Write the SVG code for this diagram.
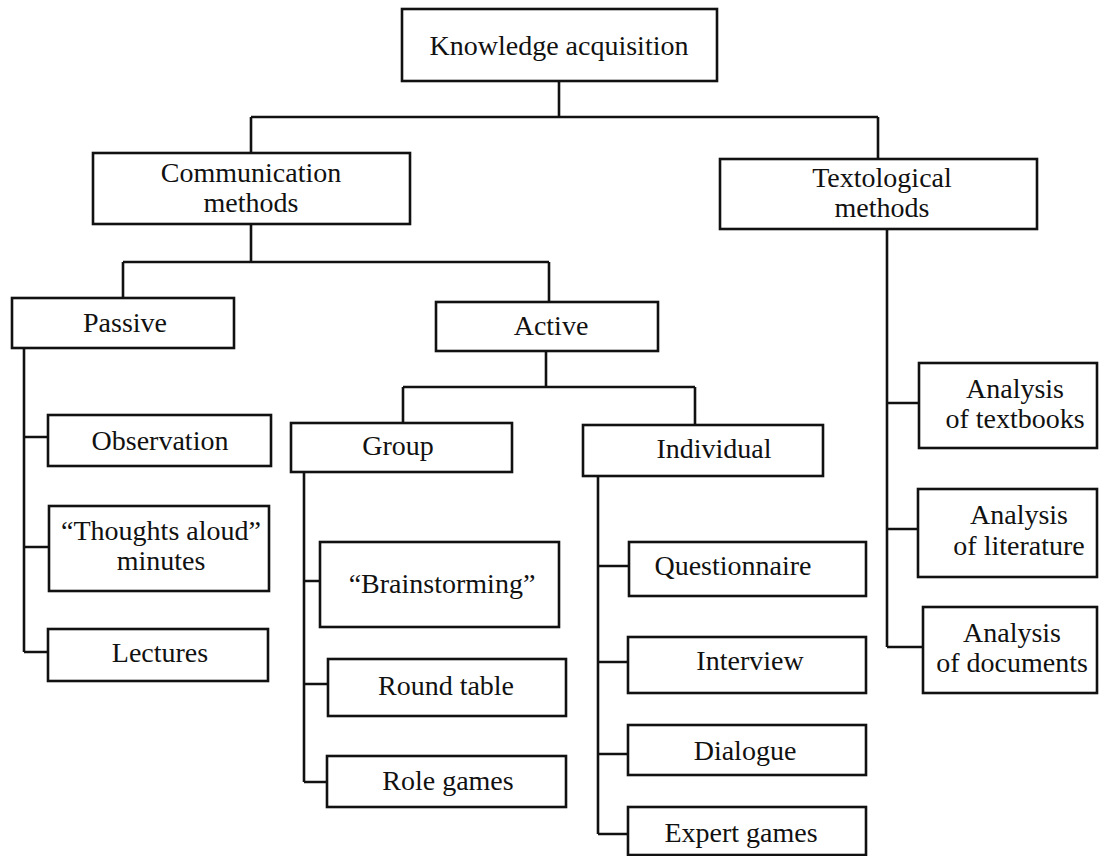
<svg xmlns="http://www.w3.org/2000/svg" width="1099" height="856" viewBox="0 0 1099 856">
<style>
rect{fill:#fff;stroke:#111;stroke-width:2.6}
text{font-family:"Liberation Serif","Times New Roman",serif;font-size:28px;fill:#111;text-anchor:middle}
#connectors path{fill:none;stroke:#111;stroke-width:2.6}
</style>
<rect x="0" y="0" width="1099" height="856" style="fill:#fff;stroke:none"/>
<g id="connectors">
<path d="M559,81V117M251,117H878M251,117V153M878,117V159"/>
<path d="M251,224V262M123,262H549M123,262V298M549,262V302"/>
<path d="M546,351V387M403,387H695M403,387V423M695,387V425"/>
<path d="M24,348V652M24,437H48M24,547H49M24,652H48"/>
<path d="M304,472V782M304,581H320M304,684H328M304,782H327"/>
<path d="M598,476V834M598,566H629M598,662H628M598,754H628M598,834H628"/>
<path d="M887,229V647M887,403H919M887,529H918M887,647H923"/>
</g>
<g id="knowledge"><rect x="402" y="9" width="315" height="72"/><text x="559" y="55">Knowledge acquisition</text></g>
<g id="communication"><rect x="93" y="153" width="317" height="71"/><text x="251" y="182">Communication</text><text x="251" y="212">methods</text></g>
<g id="textological"><rect x="720" y="159" width="317" height="70"/><text x="882" y="187">Textological</text><text x="882" y="217">methods</text></g>
<g id="passive"><rect x="12" y="298" width="222" height="50"/><text x="125" y="332">Passive</text></g>
<g id="active"><rect x="436" y="302" width="222" height="49"/><text x="551" y="335">Active</text></g>
<g id="group"><rect x="291" y="423" width="221" height="49"/><text x="398" y="455">Group</text></g>
<g id="individual"><rect x="583" y="425" width="240" height="51"/><text x="714" y="458">Individual</text></g>
<g id="observation"><rect x="48" y="415" width="223" height="51"/><text x="160" y="450">Observation</text></g>
<g id="thoughts"><rect x="49" y="506" width="220" height="85"/><text x="161" y="540">“Thoughts aloud”</text><text x="161" y="570">minutes</text></g>
<g id="lectures"><rect x="48" y="629" width="220" height="52"/><text x="160" y="662">Lectures</text></g>
<g id="brainstorming"><rect x="320" y="542" width="239" height="85"/><text x="442" y="593">“Brainstorming”</text></g>
<g id="roundtable"><rect x="328" y="659" width="238" height="57"/><text x="446" y="695">Round table</text></g>
<g id="rolegames"><rect x="327" y="756" width="239" height="51"/><text x="448" y="790">Role games</text></g>
<g id="questionnaire"><rect x="629" y="542" width="237" height="54"/><text x="733" y="575">Questionnaire</text></g>
<g id="interview"><rect x="628" y="637" width="238" height="56"/><text x="750" y="670">Interview</text></g>
<g id="dialogue"><rect x="628" y="725" width="238" height="50"/><text x="745" y="760">Dialogue</text></g>
<g id="expertgames"><rect x="628" y="807" width="238" height="48"/><text x="741" y="842">Expert games</text></g>
<g id="textbooks"><rect x="919" y="363" width="178" height="85"/><text x="1015" y="398">Analysis</text><text x="1015" y="428">of textbooks</text></g>
<g id="literature"><rect x="918" y="489" width="179" height="88"/><text x="1019" y="524">Analysis</text><text x="1019" y="555">of literature</text></g>
<g id="documents"><rect x="923" y="607" width="174" height="86"/><text x="1012" y="642">Analysis</text><text x="1012" y="672">of documents</text></g>
</svg>
